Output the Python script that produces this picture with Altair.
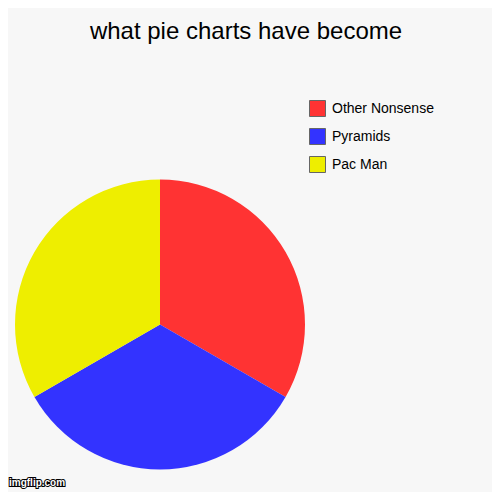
import altair as alt
import pandas as pd

labels = ["Other Nonsense", "Pyramids", "Pac Man"]
values = [1, 1, 1]
colors = ["#ff3333", "#3333ff", "#eeee00"]
title_text = ["what pie charts have become"]
watermark = ["imgflip.com"]

df = pd.DataFrame({"label": labels, "value": values, "rank": list(range(len(labels)))})
tdf = pd.DataFrame({"t": title_text})
wdf = pd.DataFrame({"t": watermark})

pie = alt.Chart(df).mark_arc(outerRadius=145).encode(
    theta=alt.Theta("value:Q", stack=True),
    color=alt.Color(
        "label:N",
        scale=alt.Scale(domain=labels, range=colors),
        sort=labels,
        legend=alt.Legend(
            title=None,
            orient="none",
            legendX=301,
            legendY=92,
            symbolType="square",
            symbolSize=256,
            symbolStrokeColor="#666666",
            symbolStrokeWidth=1,
            labelFontSize=14,
            labelFont="Liberation Sans",
            labelColor="#000000",
            rowPadding=7,
            labelOffset=6,
            padding=0,
        ),
    ),
    order=alt.Order("rank:Q"),
    x=alt.value(152),
    y=alt.value(316.5),
)

title = alt.Chart(tdf).mark_text(
    font="Liberation Sans", fontSize=24, color="#000000", align="center", baseline="alphabetic"
).encode(text="t:N", x=alt.value(238), y=alt.value(31))

wm = alt.Chart(wdf).mark_text(
    font="Liberation Sans", fontSize=10, fontWeight="bold", color="#ffffff",
    stroke="#000000", strokeWidth=2, align="left", baseline="alphabetic"
).encode(text="t:N", x=alt.value(1), y=alt.value(478))

wm2 = alt.Chart(wdf).mark_text(
    font="Liberation Sans", fontSize=10, fontWeight="bold", color="#ffffff",
    align="left", baseline="alphabetic"
).encode(text="t:N", x=alt.value(1), y=alt.value(478))

chart = alt.layer(pie, title, wm, wm2).properties(
    width=484, height=484, background="#f7f7f7", padding=0,
    autosize=alt.AutoSizeParams(type="none"),
).configure_view(stroke=None)

chart.save("out.html", embed_options={"renderer": "svg", "actions": False})
